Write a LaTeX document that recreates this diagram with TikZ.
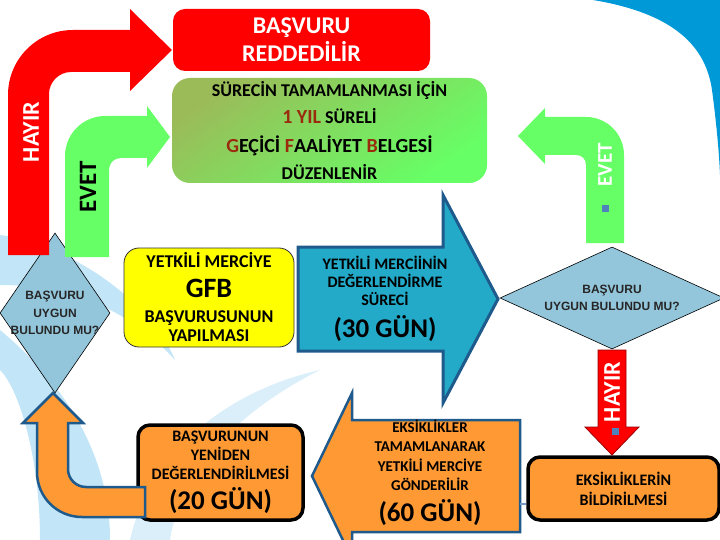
\documentclass[tikz,border=0pt]{standalone}
\usepackage{fontspec}
\setmainfont{Carlito}
\newfontfamily\diafont{Liberation Sans}
\usepackage{xcolor}
\usepackage{tikz}
\usetikzlibrary{shapes.geometric,positioning}
\definecolor{rejred}{HTML}{FF0000}
\definecolor{okgreen}{HTML}{66FF66}
\definecolor{olivegreen}{HTML}{9BBB59}
\definecolor{darkred}{HTML}{9A2B0E}
\definecolor{gfbyellow}{HTML}{FFFF00}
\definecolor{procblue}{HTML}{23AAC8}
\definecolor{edgeblue}{HTML}{1E5A8C}
\definecolor{taskorange}{HTML}{FF9933}
\definecolor{diablue}{HTML}{93C6DB}
\definecolor{skyblue}{HTML}{0099D8}
\definecolor{swirl}{HTML}{C2E5F7}
\definecolor{dotblue}{HTML}{4F81BD}
\lineskiplimit=-100pt
\begin{document}
\begin{tikzpicture}[x=1pt, y=-1pt,
  box/.style={rounded corners=12pt, align=center, inner sep=0pt, font=\bfseries},
  dia/.style={diamond, draw=black, line width=0.6pt, fill=diablue, inner sep=0pt},
  diatext/.style={align=center, inner sep=0pt, text=black!85, font=\diafont\bfseries\fontsize{12}{17.5}\selectfont},
  lbl/.style={rotate=90, inner sep=0pt, font=\bfseries},
  arrtext/.style={align=center, inner sep=0pt, font=\bfseries},
  sq/.style={fill=dotblue, minimum size=7pt, inner sep=0pt}
]
  \useasboundingbox (0,0) rectangle (720,540);

  % background
  \fill[swirl] (0,235) .. controls (70,245) and (150,300) .. (175,360) .. controls (130,310) and (70,285) .. (0,285) -- cycle;
  \fill[swirl] (0,330) .. controls (60,380) and (110,450) .. (110,540) -- (40,540) .. controls (40,460) and (20,390) .. (0,370) -- cycle;
  \fill[swirl!60] (130,540) .. controls (150,450) and (230,390) .. (320,370) .. controls (240,410) and (180,470) .. (170,540) -- cycle;
  \fill[skyblue] (593,0) .. controls (665,12) and (705,40) .. (712,90) .. controls (716,120) and (719,150) .. (720,175) -- (720,0) -- cycle;

  % boxes
  \node[box, fill=rejred, text=white, minimum width=257pt, minimum height=62pt,
        font=\bfseries\fontsize{24}{28}\selectfont] (rej) at (301.5,40) {BAŞVURU\\REDDEDİLİR};
  \node[box, rounded corners=18pt, top color=olivegreen, bottom color=okgreen, shading angle=35,
        minimum width=315pt, minimum height=105pt, font=\bfseries\fontsize{18}{27}\selectfont] (cert) at (329.5,130.5)
       {SÜRECİN TAMAMLANMASI İÇİN\\
        {\fontsize{20}{27}\selectfont\color{darkred}1 YIL} SÜRELİ\\[2pt]
        {\fontsize{20}{27}\selectfont\textcolor{darkred}{G}EÇİCİ \textcolor{darkred}{F}AALİYET \textcolor{darkred}{B}ELGESİ}\\
        DÜZENLENİR};
  \node[box, rounded corners=15pt, fill=gfbyellow, draw=black!80, line width=0.8pt,
        minimum width=170pt, minimum height=99pt, font=\bfseries\fontsize{18}{19}\selectfont] (gfb) at (209,297.5)
       {YETKİLİ MERCİYE\\[11pt]{\fontsize{28}{19}\selectfont GFB}\\[6pt]BAŞVURUSUNUN\\YAPILMASI};
  \node[box, fill=taskorange, draw=black, line width=3.5pt, minimum width=165pt, minimum height=95pt,
        font=\bfseries\fontsize{16}{19}\selectfont] (review) at (220.5,472.5)
       {BAŞVURUNUN\\YENİDEN\\DEĞERLENDİRİLMESİ\\[11.5pt]{\fontsize{27}{19}\selectfont (20 GÜN)}};
  \node[box, fill=taskorange, draw=black, line width=3.5pt, minimum width=191pt, minimum height=63pt,
        font=\bfseries\fontsize{16}{20}\selectfont] (notify) at (623.5,488.5)
       {EKSİKLİKLERİN\\BİLDİRİLMESİ};

  % decisions
  \node[dia, minimum width=110pt, minimum height=160pt] (ok1) at (55,313) {};
  \node[diatext] (ok1txt) at (ok1.center) {BAŞVURU\\UYGUN\\BULUNDU MU?};
  \node[dia, minimum width=224pt, minimum height=102pt] (ok2) at (612,298) {};
  \node[diatext] (ok2txt) at (ok2.center) {BAŞVURU\\UYGUN BULUNDU MU?};

  % bent arrows
  \fill[rejred] (8,255) -- (8,95) .. controls (8,59) and (37,30) .. (73,30) -- (130,30) -- (130,9) -- (172,50)
    -- (130,91) -- (130,72) -- (71,72) .. controls (59,72) and (49,82) .. (49,94) -- (49,255) -- cycle;
  \fill[okgreen] (65,257) -- (65,156) .. controls (65,134) and (83,116) .. (105,116) -- (147,116) -- (147,106)
    -- (170,137) -- (147,168) -- (147,158) -- (121,158) .. controls (114,158) and (109,163) .. (109,170) -- (109,257) -- cycle;
  \fill[okgreen] (624,243) -- (624,155) .. controls (624,134) and (607,117) .. (586,117) -- (545,117) -- (545,108)
    -- (518,136) -- (545,164) -- (545,155) -- (576,155) .. controls (582,155) and (586,159) .. (586,165) -- (586,243) -- cycle;
  \filldraw[fill=taskorange, draw=edgeblue, line width=2.5pt, line join=miter]
    (145,487) -- (86,487) .. controls (76,487) and (68,479) .. (68,469) -- (68,423) -- (83,423) -- (53,393)
    -- (23,423) -- (37,423) -- (37,472) .. controls (37,497) and (57,517) .. (82,517) -- (145,517) -- cycle;
  \filldraw[fill=rejred, draw=red!60!black, line width=0.8pt]
    (598,350) -- (626,350) -- (626,427) -- (639,427) -- (612,455) -- (585,427) -- (598,427) -- cycle;

  % process arrows
  \filldraw[fill=procblue, draw=edgeblue, line width=3pt]
    (298,247) -- (443,247) -- (443,195) -- (498,299) -- (443,403) -- (443,351) -- (298,351) -- cycle;
  \filldraw[fill=taskorange, draw=edgeblue, line width=2.5pt]
    (520,420) -- (352,420) -- (352,393) -- (312,476) -- (352,559) -- (352,532) -- (520,532) -- cycle;
  \node[arrtext, font=\bfseries\fontsize{16}{18}\selectfont] (eval) at (385,299)
       {YETKİLİ MERCİİNİN\\DEĞERLENDİRME\\SÜRECİ\\[14.5pt]{\fontsize{27}{18}\selectfont (30 GÜN)}};
  \node[arrtext, font=\bfseries\fontsize{15}{19.3}\selectfont] (resend) at (430,473)
       {EKSİKLİKLER\\TAMAMLANARAK\\YETKİLİ MERCİYE\\GÖNDERİLİR\\[12pt]{\fontsize{27}{19}\selectfont (60 GÜN)}};
  \coordinate (resendend) at (520,504);
  \draw[dotblue!80, line width=1.5pt] (resendend) -- (resendend -| notify.west);

  % arrow labels
  \node[lbl, text=white, font=\bfseries\fontsize{24}{24}\selectfont] (nolbl1) at (31,132) {HAYIR};
  \node[lbl, text=black, font=\bfseries\fontsize{25}{25}\selectfont] (yeslbl1) at (88,187) {EVET};
  \node[lbl, text=white, font=\bfseries\fontsize{21}{21}\selectfont] (yeslbl2) at (605,165) {EVET};
  \node[lbl, text=white, font=\bfseries\fontsize{24}{24}\selectfont] (nolbl2) at (612,392) {HAYIR};
  \node[sq] (dot1) at (605,209) {};
  \node[sq] (dot2) at (615,431) {};
\end{tikzpicture}
\end{document}
